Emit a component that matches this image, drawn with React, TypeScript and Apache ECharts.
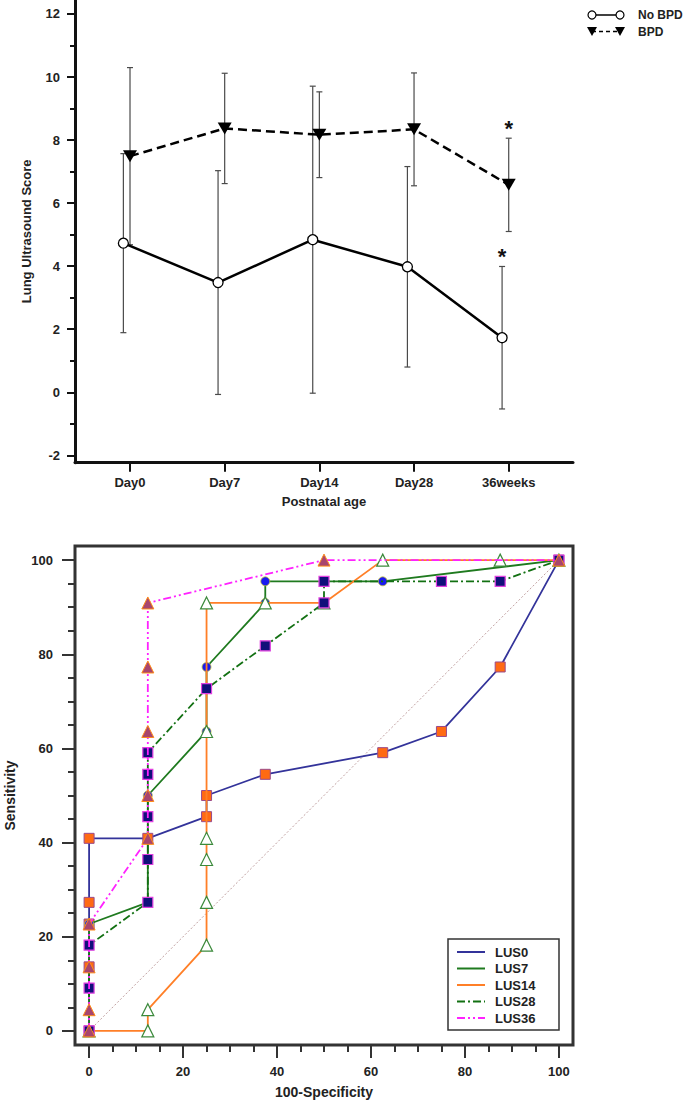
import React, { useEffect, useRef } from "react";
import * as echarts from "echarts";

// ---------- Top chart data ----------
const ageLabels = ["Day0", "Day7", "Day14", "Day28", "36weeks"];
const noBpdMean = [4.73, 3.48, 4.84, 3.98, 1.73];
const noBpdSD = [2.84, 3.55, 4.87, 3.18, 2.26];
const bpdMean = [7.49, 8.37, 8.17, 8.34, 6.58];
const bpdSD = [2.81, 1.75, 1.36, 1.79, 1.48];
const significant = [false, false, false, false, true];
const scoreTicks = [-2, 0, 2, 4, 6, 8, 10, 12];
const scoreMinorTicks = [-1, 1, 3, 5, 7, 9, 11];

// ---------- Bottom chart data (100-Specificity, Sensitivity) ----------
const lus0 = [
  [0, 0], [0, 13.6], [0, 22.7], [0, 27.3], [0, 40.9], [12.5, 40.9], [25, 45.5], [25, 50],
  [37.5, 54.5], [62.5, 59.1], [75, 63.6], [87.5, 77.3], [100, 100],
];
const lus7 = [
  [0, 0], [0, 22.7], [12.5, 27.3], [12.5, 50], [25, 63.6], [25, 77.3], [37.5, 90.9],
  [37.5, 95.5], [62.5, 95.5], [100, 100],
];
const lus14 = [
  [0, 0], [12.5, 0], [12.5, 4.5], [25, 18.2], [25, 27.3], [25, 36.4], [25, 40.9], [25, 63.6],
  [25, 90.9], [37.5, 90.9], [50, 90.9], [62.5, 100], [87.5, 100], [100, 100],
];
const lus28 = [
  [0, 0], [0, 9.1], [0, 18.2], [12.5, 27.3], [12.5, 36.4], [12.5, 45.5], [12.5, 54.5],
  [12.5, 59.1], [25, 72.7], [37.5, 81.8], [50, 90.9], [50, 95.5], [75, 95.5], [87.5, 95.5],
  [100, 100],
];
const lus36 = [
  [0, 0], [0, 4.5], [0, 13.6], [0, 22.7], [12.5, 40.9], [12.5, 50], [12.5, 63.6], [12.5, 77.3],
  [12.5, 90.9], [50, 100], [100, 100],
];
const chanceLine = [[0, 0], [100, 100]];
const rocNames = ["LUS0", "LUS7", "LUS14", "LUS28", "LUS36"];
const rocTicks = [0, 20, 40, 60, 80, 100];
const rocMinorTicks = [5, 10, 15, 25, 30, 35, 45, 50, 55, 65, 70, 75, 85, 90, 95];

const FONT = '"Liberation Sans", Arial, Helvetica, sans-serif';
const lab = (size: number) => ({ fontFamily: FONT, fontWeight: "bold" as const, fontSize: size, color: "#222" });

const NO_BPD_SHIFT = -0.07;

function errorBarRender(params: any, api: any) {
  const x = api.value(0);
  const m = api.value(1);
  const s = api.value(2);
  const sig = api.value(3);
  const top = api.coord([x, m + s]);
  const bot = api.coord([x, m - s]);
  const st = { stroke: "#4a4a4a", lineWidth: 1.2 };
  const cap = 3;
  const children: any[] = [
    { type: "line", shape: { x1: top[0], y1: top[1], x2: bot[0], y2: bot[1] }, style: st },
    { type: "line", shape: { x1: top[0] - cap, y1: top[1], x2: top[0] + cap, y2: top[1] }, style: st },
    { type: "line", shape: { x1: bot[0] - cap, y1: bot[1], x2: bot[0] + cap, y2: bot[1] }, style: st },
  ];
  if (sig) {
    children.push({
      type: "text",
      x: top[0],
      y: top[1] - 10,
      style: { text: "*", fontSize: 22, fontWeight: "bold", fontFamily: FONT, fill: "#111", align: "center", verticalAlign: "middle" },
    });
  }
  return { type: "group", children };
}

const rocStyles = [
  { line: "#33339a", type: "solid", symbol: "rect", size: 10, fill: "#ff6a13", border: "#9a4a8a", bw: 1 },
  { line: "#1f7a1f", type: "solid", symbol: "circle", size: 9, fill: "#1a1aee", border: "#c8c83a", bw: 0.8 },
  { line: "#ff7f27", type: "solid", symbol: "triangle", size: 12, fill: "#ffffff", border: "#3c8a3c", bw: 1.2 },
  { line: "#127012", type: [8, 3, 2, 3], symbol: "rect", size: 10, fill: "#10107a", border: "#e040e0", bw: 1.2 },
  { line: "#ff22ff", type: [8, 3, 2, 3, 2, 3], symbol: "triangle", size: 12, fill: "#a8456e", border: "#ff8c1a", bw: 1 },
];
const rocData = [lus0, lus7, lus14, lus28, lus36];

export default function App() {
  const ref = useRef<HTMLDivElement>(null);
  useEffect(() => {
    if (!ref.current) return;
    const chart = echarts.init(ref.current, undefined, { renderer: "svg" });
    const catIdx = ageLabels.map((_, i) => i);

    const rocSeries = rocData.map((d, k) => ({
      type: "line",
      name: rocNames[k],
      xAxisIndex: 1,
      yAxisIndex: 2,
      data: d,
      symbol: rocStyles[k].symbol,
      symbolSize: rocStyles[k].size,
      showAllSymbol: true,
      lineStyle: { color: rocStyles[k].line, width: 1.8, type: rocStyles[k].type },
      itemStyle: { color: rocStyles[k].fill, borderColor: rocStyles[k].border, borderWidth: rocStyles[k].bw },
      z: 3 + k,
    }));

    const legendItems: any[] = [];
    rocNames.forEach((n, k) => {
      const y = 952 + k * 16.5;
      legendItems.push({
        type: "line",
        z: 12,
        shape: { x1: 457, y1: y, x2: 485, y2: y },
        style: { stroke: rocStyles[k].line, lineWidth: 2, lineDash: Array.isArray(rocStyles[k].type) ? rocStyles[k].type : null },
      });
      legendItems.push({
        type: "text",
        z: 12,
        x: 495,
        y,
        style: { text: n, fontFamily: FONT, fontWeight: "bold", fontSize: 13, fill: "#222", verticalAlign: "middle" },
      });
    });

    const option: any = {
      animation: false,
      grid: [
        { left: 75, top: 0, width: 498, height: 462.7, outerBoundsMode: "none", containLabel: false },
        {
          left: 75, top: 546, width: 498, height: 499, show: true, outerBoundsMode: "none", containLabel: false,
          borderColor: "#333", borderWidth: 3, backgroundColor: "rgba(0,0,0,0)",
        },
      ],
      xAxis: [
        {
          type: "value", gridIndex: 0, min: -0.581, max: 4.679,
          axisLine: { show: true, onZero: false, lineStyle: { color: "#111", width: 3 } },
          axisTick: { show: true, customValues: catIdx, length: 9, lineStyle: { color: "#111", width: 2 } },
          axisLabel: { customValues: catIdx, formatter: (v: number) => ageLabels[Math.round(v)], margin: 13, ...lab(13) },
          splitLine: { show: false },
          name: "Postnatal age", nameLocation: "middle", nameGap: 32, nameTextStyle: lab(13),
        },
        {
          type: "value", gridIndex: 1, min: -3, max: 103, position: "bottom",
          axisLine: { show: false, onZero: false },
          axisTick: { show: true, customValues: rocTicks, length: 13, lineStyle: { color: "#333", width: 2 } },
          axisLabel: { customValues: rocTicks, margin: 20, ...lab(13) },
          splitLine: { show: false },
          name: "100-Specificity", nameLocation: "middle", nameGap: 40, nameTextStyle: lab(14),
        },
        {
          type: "value", gridIndex: 1, min: -3, max: 103, position: "bottom",
          axisLine: { show: false, onZero: false },
          axisTick: { show: true, customValues: rocMinorTicks, length: 7, lineStyle: { color: "#333", width: 2 } },
          axisLabel: { show: false },
          splitLine: { show: false },
        },
      ],
      yAxis: [
        {
          type: "value", gridIndex: 0, min: -2.235, max: 12.444,
          axisLine: { show: true, onZero: false, lineStyle: { color: "#111", width: 3 } },
          axisTick: { show: true, customValues: scoreTicks, length: 8, lineStyle: { color: "#111", width: 2 } },
          axisLabel: { customValues: scoreTicks, margin: 15, ...lab(13) },
          splitLine: { show: false },
          name: "Lung Ultrasound Score", nameLocation: "middle", nameGap: 42, nameTextStyle: lab(13),
        },
        {
          type: "value", gridIndex: 0, min: -2.235, max: 12.444, position: "left",
          axisLine: { show: false, onZero: false },
          axisTick: { show: true, customValues: scoreMinorTicks, length: 5, lineStyle: { color: "#111", width: 2 } },
          axisLabel: { show: false },
          splitLine: { show: false },
        },
        {
          type: "value", gridIndex: 1, min: -3, max: 103, position: "left",
          axisLine: { show: false, onZero: false },
          axisTick: { show: true, customValues: rocTicks, length: 13, lineStyle: { color: "#333", width: 2 } },
          axisLabel: { customValues: rocTicks, margin: 22, ...lab(13) },
          splitLine: { show: false },
          name: "Sensitivity", nameLocation: "middle", nameGap: 58, nameTextStyle: lab(14),
        },
        {
          type: "value", gridIndex: 1, min: -3, max: 103, position: "left",
          axisLine: { show: false, onZero: false },
          axisTick: { show: true, customValues: rocMinorTicks, length: 7, lineStyle: { color: "#333", width: 2 } },
          axisLabel: { show: false },
          splitLine: { show: false },
        },
      ],
      series: [
        {
          type: "custom", name: "No BPD SD", xAxisIndex: 0, yAxisIndex: 0, z: 1,
          encode: { x: 0, y: 1 },
          data: noBpdMean.map((m, i) => [i + NO_BPD_SHIFT, m, noBpdSD[i], significant[i] ? 1 : 0]),
          renderItem: errorBarRender,
        },
        {
          type: "custom", name: "BPD SD", xAxisIndex: 0, yAxisIndex: 0, z: 1,
          encode: { x: 0, y: 1 },
          data: bpdMean.map((m, i) => [i, m, bpdSD[i], significant[i] ? 1 : 0]),
          renderItem: errorBarRender,
        },
        {
          type: "line", name: "No BPD", xAxisIndex: 0, yAxisIndex: 0, z: 3,
          data: noBpdMean.map((m, i) => [i + NO_BPD_SHIFT, m]),
          symbol: "circle", symbolSize: 10,
          lineStyle: { color: "#000", width: 2.5 },
          itemStyle: { color: "#fff", borderColor: "#000", borderWidth: 1.3 },
        },
        {
          type: "line", name: "BPD", xAxisIndex: 0, yAxisIndex: 0, z: 3,
          data: bpdMean.map((m, i) => [i, m]),
          symbol: "triangle", symbolRotate: 180, symbolSize: [14, 12],
          lineStyle: { color: "#000", width: 2.5, type: [9, 5] },
          itemStyle: { color: "#000" },
        },
        {
          type: "line", name: "chance", xAxisIndex: 1, yAxisIndex: 2, z: 2,
          data: chanceLine, symbol: "none",
          lineStyle: { color: "#c0a0a0", width: 1, type: [2, 2] },
        },
        ...rocSeries,
      ],
      graphic: [
        // top legend
        { type: "line", shape: { x1: 592, y1: 15, x2: 620, y2: 15 }, style: { stroke: "#000", lineWidth: 1.5 }, z: 10 },
        { type: "circle", shape: { cx: 592, cy: 15, r: 4 }, style: { fill: "#fff", stroke: "#000", lineWidth: 1.2 }, z: 11 },
        { type: "circle", shape: { cx: 620, cy: 15, r: 4 }, style: { fill: "#fff", stroke: "#000", lineWidth: 1.2 }, z: 11 },
        { type: "text", x: 638, y: 15, style: { text: "No BPD", fontFamily: FONT, fontWeight: "bold", fontSize: 12, fill: "#222", verticalAlign: "middle" }, z: 11 },
        { type: "line", shape: { x1: 592, y1: 31.5, x2: 620, y2: 31.5 }, style: { stroke: "#000", lineWidth: 1.5, lineDash: [4, 3] }, z: 10 },
        { type: "polygon", shape: { points: [[587, 27], [597, 27], [592, 36]] }, style: { fill: "#000" }, z: 11 },
        { type: "polygon", shape: { points: [[615, 27], [625, 27], [620, 36]] }, style: { fill: "#000" }, z: 11 },
        { type: "text", x: 638, y: 31.5, style: { text: "BPD", fontFamily: FONT, fontWeight: "bold", fontSize: 12, fill: "#222", verticalAlign: "middle" }, z: 11 },
        // bottom legend
        { type: "rect", shape: { x: 448, y: 939, width: 111, height: 91 }, style: { fill: "#fff", stroke: "#333", lineWidth: 1.5 }, z: 10 },
        ...legendItems,
      ],
    };
    chart.setOption(option);
    return () => chart.dispose();
  }, []);
  return <div ref={ref} style={{ position: "absolute", left: 0, top: 0, width: 685, height: 1100 }} />;
}
